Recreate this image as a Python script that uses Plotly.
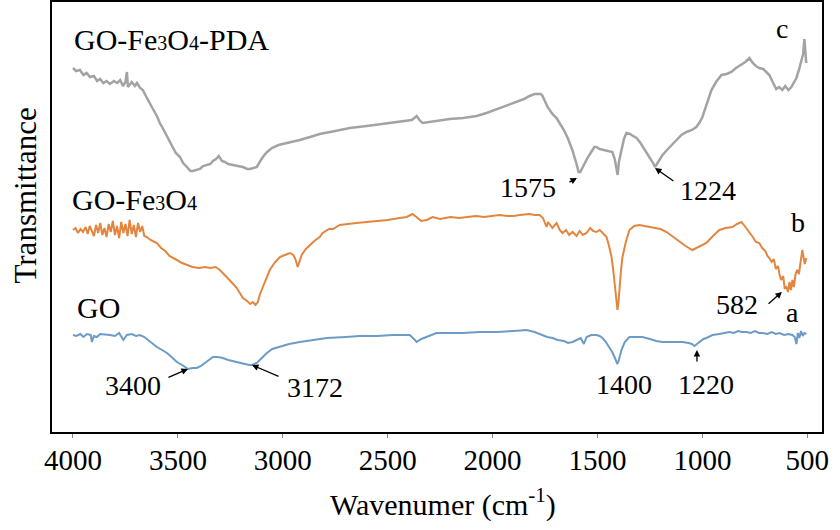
import plotly.graph_objects as go

# ---------------- data ----------------
# Wavenumber (cm-1) / transmittance (arbitrary, offset) for each spectrum
go_pda_wn = [4000, 3985, 3967, 3950, 3935, 3919, 3900, 3885, 3871, 3855, 3840, 3824, 3805, 3790, 3775, 3762, 3750, 3743, 3738, 3720,
             3705, 3695, 3680, 3667, 3655, 3643, 3630, 3619, 3600, 3586, 3570, 3552, 3540, 3524, 3510, 3490, 3475, 3457, 3440, 3429,
             3410, 3395, 3380, 3362, 3345, 3333, 3318, 3305, 3290, 3276, 3260, 3238, 3215, 3190, 3170, 3157, 3140, 3124, 3110, 3095,
             3075, 3052, 3020, 2981, 2950, 2919, 2870, 2824, 2750, 2681, 2600, 2524, 2450, 2385, 2362, 2345, 2333, 2270, 2205, 2140,
             2076, 2029, 1990, 1967, 1925, 1886, 1850, 1824, 1800, 1786, 1770, 1762, 1750, 1738, 1715, 1695, 1681, 1660, 1640, 1620,
             1600, 1590, 1582, 1570, 1560, 1548, 1530, 1515, 1505, 1490, 1470, 1450, 1429, 1418, 1410, 1404, 1398, 1386, 1374, 1362,
             1345, 1330, 1314, 1295, 1280, 1267, 1250, 1235, 1226, 1210, 1190, 1160, 1124, 1100, 1076, 1050, 1029, 1015, 1000, 980,
             957, 935, 909, 885, 862, 840, 814, 795, 776, 760, 745, 729, 710, 695, 681, 665, 648, 635, 619, 605,
             590, 576, 565, 552, 540, 529, 520, 514, 510, 505]
go_pda_t = [364, 361, 362, 357, 359, 355, 356, 351, 353, 349, 351, 348, 351, 349, 352, 346, 350, 360, 345, 350,
            346, 349, 344, 342, 337, 332, 328, 323, 316, 309, 303, 296, 291, 285, 279, 275, 269, 265, 261, 261,
            262, 263, 266, 267, 268, 271, 273, 276, 271, 270, 268, 267, 266, 265, 263, 263, 264, 265, 270, 275,
            280, 284, 287, 289, 290, 292, 295, 298, 301, 304, 306, 308, 310, 312, 316, 311, 309, 311, 313, 314,
            316, 319, 322, 324, 327, 330, 333, 336, 338, 338, 338, 336, 330, 325, 318, 314, 309, 302, 293, 282,
            268, 260, 260, 265, 270, 274, 280, 285, 285, 283, 282, 281, 280, 273, 265, 257, 270, 283, 293, 299,
            298, 296, 294, 289, 284, 281, 275, 269, 265, 271, 277, 284, 292, 297, 300, 302, 305, 309, 315, 327,
            342, 350, 357, 358, 360, 364, 368, 370, 374, 369, 366, 364, 363, 360, 357, 350, 343, 345, 342, 346,
            342, 345, 349, 354, 362, 370, 378, 393, 385, 369]

go_fe_wn = [4000, 3988, 3976, 3964, 3952, 3940, 3930, 3920, 3910, 3900, 3890, 3880, 3870, 3860, 3850, 3840, 3830, 3820, 3810, 3800,
            3790, 3780, 3770, 3760, 3750, 3740, 3730, 3720, 3710, 3700, 3690, 3680, 3670, 3660, 3648, 3630, 3610, 3600, 3580, 3560,
            3540, 3520, 3505, 3480, 3457, 3430, 3400, 3370, 3345, 3320, 3300, 3285, 3267, 3245, 3219, 3205, 3190, 3170, 3155, 3143,
            3130, 3119, 3110, 3095, 3080, 3062, 3040, 3014, 2990, 2967, 2950, 2940, 2929, 2920, 2910, 2890, 2871, 2850, 2824, 2810,
            2780, 2760, 2729, 2700, 2650, 2600, 2550, 2500, 2443, 2410, 2381, 2360, 2340, 2314, 2286, 2250, 2200, 2160, 2124, 2080,
            2040, 2000, 1967, 1930, 1900, 1870, 1824, 1800, 1776, 1760, 1743, 1736, 1729, 1715, 1695, 1680, 1667, 1650, 1635, 1619,
            1600, 1585, 1570, 1552, 1535, 1520, 1505, 1490, 1475, 1457, 1445, 1433, 1425, 1419, 1412, 1405, 1400, 1395, 1388, 1381,
            1365, 1348, 1325, 1300, 1270, 1238, 1200, 1171, 1140, 1110, 1080, 1048, 1020, 1000, 981, 950, 919, 890, 857, 835,
            814, 795, 776, 760, 745, 729, 715, 700, 690, 681, 670, 660, 650, 640, 633, 625, 615, 608, 600, 592,
            585, 578, 571, 564, 556, 548, 540, 532, 524, 518, 512, 505]
go_fe_t = [202, 204, 199, 203, 200, 205, 198, 206, 201, 196, 207, 199, 209, 197, 204, 195, 208, 200, 211, 197,
           206, 194, 210, 199, 208, 196, 212, 198, 207, 195, 209, 200, 206, 196, 195, 192, 190, 189, 184, 181,
           176, 174, 172, 169, 167, 165, 164, 165, 164, 165, 162, 159, 155, 150, 144, 139, 134, 131, 128, 130,
           127, 130, 137, 145, 153, 162, 169, 175, 177, 179, 177, 173, 165, 170, 177, 183, 187, 191, 195, 199,
           203, 203, 207, 208, 209, 210, 211, 212, 214, 215, 218, 214, 211, 212, 215, 213, 215, 214, 215, 216,
           215, 216, 217, 216, 216, 217, 218, 217, 217, 214, 205, 210, 208, 204, 209, 202, 199, 202, 197, 200,
           196, 201, 197, 199, 204, 201, 200, 202, 199, 195, 186, 175, 162, 149, 135, 122, 130, 145, 162, 175,
           190, 202, 206, 207, 206, 205, 203, 200, 195, 190, 186, 182, 185, 187, 189, 196, 202, 204, 205, 208,
           210, 205, 200, 195, 190, 189, 184, 181, 176, 174, 170, 173, 163, 166, 158, 152, 156, 144, 145, 140,
           150, 142, 152, 145, 158, 162, 158, 172, 182, 175, 168, 174]

go_wn = [4000, 3985, 3965, 3950, 3933, 3915, 3910, 3900, 3886, 3870, 3824, 3800, 3780, 3760, 3743, 3720, 3700, 3681, 3660, 3648,
         3625, 3600, 3575, 3552, 3530, 3505, 3480, 3452, 3430, 3410, 3390, 3362, 3345, 3333, 3310, 3286, 3260, 3240, 3219, 3190,
         3160, 3148, 3124, 3100, 3076, 3050, 3014, 2970, 2919, 2850, 2790, 2700, 2633, 2550, 2476, 2420, 2395, 2370, 2362, 2340,
         2314, 2267, 2200, 2143, 2060, 1981, 1900, 1838, 1800, 1762, 1740, 1714, 1690, 1660, 1640, 1619, 1600, 1580, 1565, 1552,
         1530, 1505, 1490, 1476, 1460, 1443, 1430, 1419, 1410, 1405, 1398, 1386, 1370, 1348, 1320, 1286, 1250, 1220, 1190, 1150,
         1120, 1095, 1065, 1050, 1038, 1025, 1010, 995, 981, 965, 952, 920, 900, 871, 850, 830, 810, 790, 770, 750,
         730, 714, 690, 670, 650, 633, 610, 590, 571, 560, 552, 545, 538, 530, 522, 514, 505]
go_t = [97, 96, 98, 95, 98, 97, 90, 96, 95, 98, 97, 96, 99, 92, 97, 98, 96, 97, 95, 93,
        89, 85, 82, 79, 75, 70, 67, 63, 64, 64, 66, 70, 73, 75, 75, 74, 72, 71, 70, 68,
        67, 67, 69, 74, 79, 83, 85, 88, 90, 92, 94, 95, 96, 96, 97, 97, 97, 92, 90, 93,
        95, 99, 99, 99, 100, 100, 101, 102, 100, 97, 95, 94, 92, 91, 89, 90, 92, 94, 88, 95,
        97, 97, 96, 94, 90, 85, 80, 75, 70, 68, 72, 82, 90, 95, 95, 95, 93, 91, 90, 90,
        90, 90, 89, 88, 86, 88, 91, 93, 94, 96, 97, 98, 99, 100, 99, 101, 100, 100, 99, 101,
        99, 99, 98, 100, 98, 99, 97, 98, 97, 95, 88, 99, 94, 101, 96, 99, 98]

x_ticks = [4000, 3500, 3000, 2500, 2000, 1500, 1000, 500]
series_names = ["GO-Fe<span style='font-size:20px'>3</span>O<span style='font-size:20px'>4</span>-PDA",
                "GO-Fe<span style='font-size:20px'>3</span>O<span style='font-size:20px'>4</span>",
                "GO"]
peak_labels = ["3400", "3172", "1400", "1220", "1575", "1224", "582"]

# ---------------- figure ----------------
FONT = "Liberation Serif, Times New Roman, serif"
fig = go.Figure()
fig.add_trace(go.Scatter(x=go_pda_wn, y=go_pda_t, mode="lines", line=dict(color="#a3a3a3", width=2.5), name="c"))
fig.add_trace(go.Scatter(x=go_fe_wn, y=go_fe_t, mode="lines", line=dict(color="#e2863f", width=2), name="b"))
fig.add_trace(go.Scatter(x=go_wn, y=go_t, mode="lines", line=dict(color="#6c9cc6", width=2), name="a"))

anns = []
def label(x, y, text, anchor="center", size=28):
    anns.append(dict(x=x, y=y, xref="x", yref="y", text=text, showarrow=False,
                     xanchor=anchor, yanchor="middle", font=dict(family=FONT, size=size, color="black")))

def arrow(x, y, ax, ay):
    anns.append(dict(x=x, y=y, ax=ax, ay=ay, xref="x", yref="y", axref="x", ayref="y", text="",
                     showarrow=True, arrowhead=2, arrowsize=1, arrowwidth=1.3, arrowcolor="black"))

# curve names
label(4005, 393, series_names[0], "left", 30)
label(4014, 233, series_names[1], "left", 30)
label(3990, 125, series_names[2], "left", 30)
label(621, 404, "c")
label(545, 210, "b")
label(573, 120, "a")
# peak labels
label(3714, 47, peak_labels[0]); arrow(3452, 63, 3552, 54)
label(2847, 45, peak_labels[1]); arrow(3147, 67, 3013, 55)
label(1374, 48, peak_labels[2])
label(983, 48, peak_labels[3]); arrow(1026, 82, 1026, 69)
label(1831, 245, peak_labels[4]); arrow(1598, 254, 1641, 249)
label(974, 242, peak_labels[5]); arrow(1226, 264, 1131, 250)
label(835, 128, peak_labels[6]); arrow(621, 140, 692, 127)

# axis titles (placed as in the reference)
anns.append(dict(x=-0.035, y=0.55, xref="paper", yref="paper", text="Transmittance", showarrow=False,
                 textangle=-90, xanchor="center", yanchor="middle",
                 font=dict(family=FONT, size=31, color="black")))
anns.append(dict(x=0.508, y=-0.165, xref="paper", yref="paper", text="Wavenumer (cm<sup>-1</sup>)",
                 showarrow=False, xanchor="center", yanchor="middle",
                 font=dict(family=FONT, size=30, color="black")))

fig.update_layout(
    width=840, height=530,
    margin=dict(l=52, r=18, t=2, b=98),
    paper_bgcolor="white", plot_bgcolor="white",
    showlegend=False,
    annotations=anns,
    font=dict(family=FONT, color="black"),
    xaxis=dict(range=[4100, 430], tickvals=x_ticks, ticktext=[str(v) for v in x_ticks],
               tickfont=dict(family=FONT, size=29, color="black"),
               ticks="outside", ticklen=4, tickcolor="#888888", ticklabelstandoff=-3,
               showline=True, linecolor="black", linewidth=2, mirror=True,
               showgrid=False, zeroline=False, automargin=False),
    yaxis=dict(range=[0, 430], showticklabels=False, ticks="",
               showline=True, linecolor="black", linewidth=2, mirror=True,
               showgrid=False, zeroline=False, automargin=False),
)

fig.write_html("out.html", config={"displayModeBar": False},
               post_script="document.body.style.margin='0px';document.body.style.overflow='hidden';")
